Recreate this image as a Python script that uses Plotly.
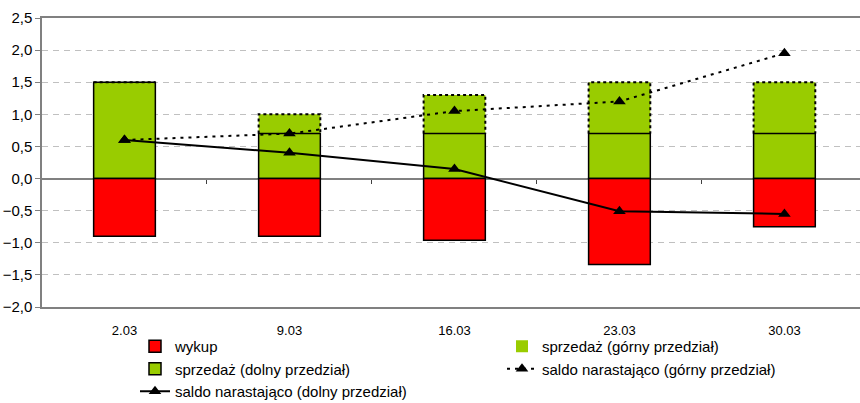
import plotly.graph_objects as go

categories = ["2.03", "9.03", "16.03", "23.03", "30.03"]
wykup = [-0.90, -0.90, -0.96, -1.34, -0.75]
sprzedaz_dolny = [1.5, 0.7, 0.7, 0.7, 0.7]
sprzedaz_gorny = [1.5, 1.0, 1.3, 1.5, 1.5]
saldo_dolny = [0.60, 0.40, 0.15, -0.51, -0.55]
saldo_gorny = [0.60, 0.70, 1.05, 1.20, 1.95]

xs = list(range(len(categories)))
BW = 0.374
RED = "#FF0000"
GREEN = "#99CC00"
FONT = "Liberation Sans, Arial, sans-serif"
Y_MIN, Y_MAX = -2.0, 2.5
W, H = 860, 403

fig = go.Figure()

fig.add_trace(go.Bar(x=xs, y=sprzedaz_gorny, width=BW, name="sprzedaż (górny przedział)",
                     marker=dict(color=GREEN, line=dict(width=0)), legend="legend2", legendrank=1))
fig.add_trace(go.Bar(x=xs, y=sprzedaz_dolny, width=BW, name="sprzedaż (dolny przedział)",
                     marker=dict(color=GREEN, line=dict(color="black", width=1.5)), legendrank=2))
fig.add_trace(go.Bar(x=xs, y=wykup, width=BW, name="wykup",
                     marker=dict(color=RED, line=dict(color="black", width=1.5)), legendrank=1))

# dashed outline of the upper (górny) segment
ox, oy = [], []
for i, (d, t) in enumerate(zip(sprzedaz_dolny, sprzedaz_gorny)):
    ox += [i - BW / 2, i - BW / 2, i + BW / 2, i + BW / 2, None]
    oy += [d, t, t, d, None]
fig.add_trace(go.Scatter(x=ox, y=oy, mode="lines", showlegend=False, hoverinfo="skip",
                         line=dict(color="black", width=2, dash="3px,3px")))

fig.add_trace(go.Scatter(x=xs, y=saldo_gorny, mode="lines+markers", name="saldo narastająco (górny przedział)",
                         line=dict(color="black", width=2, dash="3px,5px"),
                         marker=dict(symbol="triangle-up", size=11, color="black"),
                         legend="legend2", legendrank=2))
fig.add_trace(go.Scatter(x=xs, y=saldo_dolny, mode="lines+markers", name="saldo narastająco (dolny przedział)",
                         line=dict(color="black", width=2),
                         marker=dict(symbol="triangle-up", size=11, color="black"),
                         legendrank=3))

# invisible trace on helper axis for the small ticks on the zero line
fig.add_trace(go.Scatter(x=[None], y=[None], xaxis="x2", showlegend=False, hoverinfo="skip"))

leg_common = dict(xref="container", yref="container", yanchor="top", xanchor="left",
                  bgcolor="rgba(0,0,0,0)", font=dict(family=FONT, size=15, color="black"),
                  traceorder="normal", tracegroupgap=0, orientation="v")

fig.update_layout(
    width=W, height=H,
    margin=dict(l=42, r=0, t=18, b=96, autoexpand=False),
    plot_bgcolor="white", paper_bgcolor="white",
    barmode="overlay",
    separators=",.",
    font=dict(family=FONT, color="black"),
    legend=dict(x=135 / W, y=1 - 330 / H, **leg_common),
    legend2=dict(x=502 / W, y=1 - 330 / H, **leg_common),
    xaxis=dict(range=[-0.5, 4.458], tickvals=xs, ticktext=categories, showgrid=False,
               zeroline=False, showline=True, mirror=True, linecolor="#808080", linewidth=1.5,
               ticks="", tickfont=dict(size=13), ticklabelstandoff=11, tickangle=0),
    xaxis2=dict(range=[-0.5, 4.458], overlaying="x", anchor="free",
                position=(0 - Y_MIN) / (Y_MAX - Y_MIN), side="bottom",
                tickvals=[i + 0.5 for i in xs[:-1]], ticks="outside", ticklen=4,
                tickcolor="#404040", tickwidth=1, showticklabels=False, showgrid=False,
                showline=False, zeroline=False),
    yaxis=dict(range=[Y_MIN, Y_MAX], dtick=0.5, tick0=0, tickformat=".1f", showgrid=True,
               gridcolor="#c0c0c0", griddash="6px,5px", gridwidth=1,
               zeroline=True, zerolinecolor="#808080", zerolinewidth=2,
               showline=True, linecolor="#808080", linewidth=1.5,
               ticks="outside", ticklen=5, tickcolor="#808080", tickfont=dict(size=15)),
)

fig.write_html("out.html", config={"displayModeBar": False},
               post_script="document.body.style.margin='0';document.body.style.overflow='hidden';")
